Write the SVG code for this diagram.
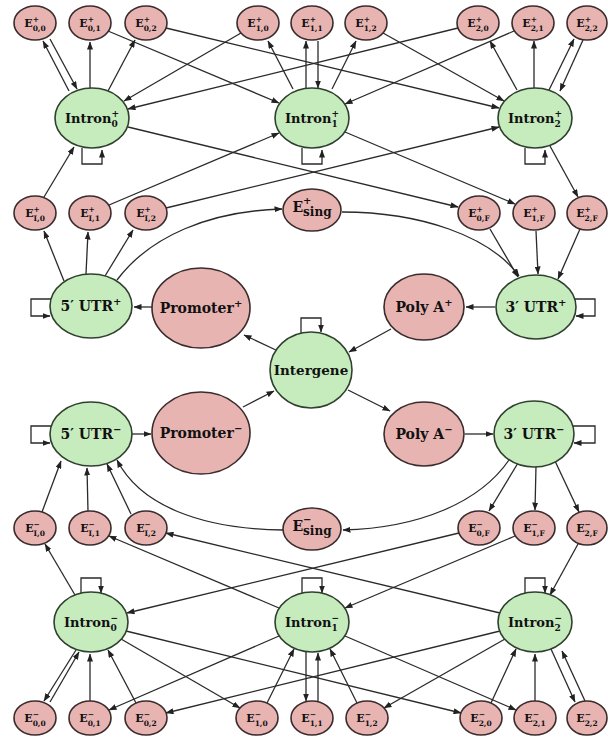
<svg xmlns="http://www.w3.org/2000/svg" width="608" height="738" viewBox="0 0 608 738">
<defs>
<marker id="ah" viewBox="0 0 8 6" refX="7.5" refY="3" markerWidth="8" markerHeight="6" markerUnits="userSpaceOnUse" orient="auto"><path d="M0,0 L8,3 L0,6 z" fill="#222"/></marker>
<style>
.c{fill:none;stroke:#2a2a2a;stroke-width:1.3;marker-end:url(#ah)}
.p{fill:#e8b4b2;stroke:#3a2c2c;stroke-width:1.6}
.g{fill:#c6ecbe;stroke:#2f402f;stroke-width:1.6}
text{font-family:"DejaVu Serif","Liberation Serif",serif;font-weight:bold;fill:#111;text-anchor:middle}
.e{font-size:11px}
.s{font-size:7.5px}
.t{font-size:13px}
.ts{font-size:9px}
.b{font-size:14px}
.bs{font-size:10px}
</style>
</defs>
<rect width="608" height="738" fill="#fff"/>
<g id="connectors">
<line class="c" x1="69" y1="91" x2="43" y2="41"/>
<line class="c" x1="50" y1="39" x2="77" y2="89"/>
<line class="c" x1="90" y1="88" x2="90" y2="42"/>
<line class="c" x1="108" y1="91" x2="135" y2="40"/>
<line class="c" x1="108" y1="31" x2="279" y2="103"/>
<line class="c" x1="166" y1="28" x2="499" y2="108"/>
<line class="c" x1="241" y1="33" x2="124" y2="101"/>
<line class="c" x1="458" y1="28" x2="128" y2="109"/>
<line class="c" x1="293" y1="89" x2="268" y2="41"/>
<line class="c" x1="306" y1="88" x2="306" y2="41"/>
<line class="c" x1="318" y1="41" x2="318" y2="88"/>
<line class="c" x1="332" y1="89" x2="356" y2="41"/>
<line class="c" x1="383" y1="33" x2="504" y2="101"/>
<line class="c" x1="514" y1="31" x2="345" y2="104"/>
<line class="c" x1="517" y1="90" x2="490" y2="41"/>
<line class="c" x1="534" y1="88" x2="534" y2="41"/>
<line class="c" x1="549" y1="90" x2="574" y2="39"/>
<line class="c" x1="583" y1="40" x2="560" y2="91"/>
<path class="c" d="M82,148 V164 H102 V150"/>
<path class="c" d="M302,148 V164 H322 V150"/>
<path class="c" d="M525,148 V164 H545 V150"/>
<line class="c" x1="44" y1="197" x2="74" y2="147"/>
<line class="c" x1="109" y1="205" x2="279" y2="133"/>
<line class="c" x1="166" y1="208" x2="499" y2="127"/>
<line class="c" x1="128" y1="127" x2="458" y2="207"/>
<line class="c" x1="345" y1="132" x2="515" y2="204"/>
<line class="c" x1="550" y1="146" x2="578" y2="197"/>
<line class="c" x1="64" y1="281" x2="44" y2="231"/>
<line class="c" x1="86" y1="274" x2="88" y2="232"/>
<line class="c" x1="105" y1="276" x2="133" y2="230"/>
<path class="c" d="M117,280 C150,236 210,211 282,209"/>
<path class="c" d="M342,212 C420,212 490,236 519,276"/>
<line class="c" x1="490" y1="229" x2="518" y2="277"/>
<line class="c" x1="536" y1="231" x2="538" y2="274"/>
<line class="c" x1="580" y1="229" x2="558" y2="279"/>
<line class="c" x1="152" y1="307" x2="134" y2="307"/>
<line class="c" x1="495" y1="307" x2="466" y2="307"/>
<path class="c" d="M52,299 H31 V316 H50"/>
<path class="c" d="M574,299 H595 V316 H576"/>
<line class="c" x1="278" y1="351" x2="244" y2="335"/>
<line class="c" x1="391" y1="329" x2="349" y2="352"/>
<line class="c" x1="243" y1="407" x2="274" y2="391"/>
<line class="c" x1="348" y1="390" x2="390" y2="411"/>
<path class="c" d="M301,334 V318 H321 V332"/>
<line class="c" x1="132" y1="434" x2="151" y2="434"/>
<line class="c" x1="465" y1="434" x2="493" y2="434"/>
<path class="c" d="M52,426 H31 V443 H50"/>
<path class="c" d="M572,426 H595 V443 H574"/>
<line class="c" x1="42" y1="512" x2="61" y2="461"/>
<line class="c" x1="88" y1="511" x2="87" y2="468"/>
<line class="c" x1="131" y1="514" x2="107" y2="464"/>
<path class="c" d="M283,530 C200,529 140,505 117,460"/>
<path class="c" d="M509,460 C480,502 420,528 343,530"/>
<line class="c" x1="518" y1="463" x2="489" y2="511"/>
<line class="c" x1="536" y1="466" x2="535" y2="510"/>
<line class="c" x1="555" y1="461" x2="579" y2="512"/>
<line class="c" x1="75" y1="595" x2="45" y2="544"/>
<line class="c" x1="279" y1="608" x2="109" y2="536"/>
<line class="c" x1="500" y1="613" x2="166" y2="533"/>
<line class="c" x1="459" y1="533" x2="127" y2="613"/>
<line class="c" x1="515" y1="536" x2="345" y2="608"/>
<line class="c" x1="578" y1="544" x2="550" y2="595"/>
<path class="c" d="M81,594 V578 H101 V593"/>
<path class="c" d="M302,594 V578 H322 V593"/>
<path class="c" d="M525,594 V578 H545 V593"/>
<line class="c" x1="76" y1="650" x2="44" y2="701"/>
<line class="c" x1="50" y1="702" x2="79" y2="652"/>
<line class="c" x1="90" y1="701" x2="90" y2="654"/>
<line class="c" x1="136" y1="703" x2="108" y2="650"/>
<line class="c" x1="121" y1="639" x2="240" y2="708"/>
<line class="c" x1="126" y1="631" x2="461" y2="713"/>
<line class="c" x1="279" y1="636" x2="109" y2="710"/>
<line class="c" x1="500" y1="631" x2="166" y2="713"/>
<line class="c" x1="267" y1="703" x2="294" y2="649"/>
<line class="c" x1="306" y1="652" x2="306" y2="701"/>
<line class="c" x1="318" y1="701" x2="318" y2="653"/>
<line class="c" x1="357" y1="703" x2="330" y2="649"/>
<line class="c" x1="345" y1="636" x2="516" y2="710"/>
<line class="c" x1="505" y1="639" x2="384" y2="708"/>
<line class="c" x1="491" y1="703" x2="516" y2="649"/>
<line class="c" x1="535" y1="701" x2="535" y2="654"/>
<line class="c" x1="551" y1="649" x2="575" y2="702"/>
<line class="c" x1="585" y1="701" x2="562" y2="651"/>
</g>
<g id="E00p"><ellipse class="p" cx="35" cy="23" rx="21" ry="17"/><text class="e" x="35" y="27">E<tspan class="s" dy="-5">+</tspan><tspan class="s" dx="-6.3" dy="9">0,0</tspan></text></g>
<g id="E01p"><ellipse class="p" cx="90" cy="23" rx="21" ry="17"/><text class="e" x="90" y="27">E<tspan class="s" dy="-5">+</tspan><tspan class="s" dx="-6.3" dy="9">0,1</tspan></text></g>
<g id="E02p"><ellipse class="p" cx="146" cy="23" rx="21" ry="17"/><text class="e" x="146" y="27">E<tspan class="s" dy="-5">+</tspan><tspan class="s" dx="-6.3" dy="9">0,2</tspan></text></g>
<g id="E10p"><ellipse class="p" cx="258" cy="23" rx="21" ry="17"/><text class="e" x="258" y="27">E<tspan class="s" dy="-5">+</tspan><tspan class="s" dx="-6.3" dy="9">1,0</tspan></text></g>
<g id="E11p"><ellipse class="p" cx="312" cy="23" rx="21" ry="17"/><text class="e" x="312" y="27">E<tspan class="s" dy="-5">+</tspan><tspan class="s" dx="-6.3" dy="9">1,1</tspan></text></g>
<g id="E12p"><ellipse class="p" cx="366" cy="23" rx="21" ry="17"/><text class="e" x="366" y="27">E<tspan class="s" dy="-5">+</tspan><tspan class="s" dx="-6.3" dy="9">1,2</tspan></text></g>
<g id="E20p"><ellipse class="p" cx="478" cy="23" rx="21" ry="17"/><text class="e" x="478" y="27">E<tspan class="s" dy="-5">+</tspan><tspan class="s" dx="-6.3" dy="9">2,0</tspan></text></g>
<g id="E21p"><ellipse class="p" cx="533" cy="23" rx="21" ry="17"/><text class="e" x="533" y="27">E<tspan class="s" dy="-5">+</tspan><tspan class="s" dx="-6.3" dy="9">2,1</tspan></text></g>
<g id="E22p"><ellipse class="p" cx="587" cy="23" rx="20" ry="17"/><text class="e" x="587" y="27">E<tspan class="s" dy="-5">+</tspan><tspan class="s" dx="-6.3" dy="9">2,2</tspan></text></g>
<g id="Intron0p"><ellipse class="g" cx="92" cy="118" rx="37" ry="30"/><text class="t" x="92" y="123">Intron<tspan class="ts" dy="4">0</tspan><tspan class="ts" dx="-6.3" dy="-10">+</tspan></text></g>
<g id="Intron1p"><ellipse class="g" cx="312" cy="118" rx="37" ry="30"/><text class="t" x="312" y="123">Intron<tspan class="ts" dy="4">1</tspan><tspan class="ts" dx="-6.3" dy="-10">+</tspan></text></g>
<g id="Intron2p"><ellipse class="g" cx="535" cy="118" rx="37" ry="30"/><text class="t" x="535" y="123">Intron<tspan class="ts" dy="4">2</tspan><tspan class="ts" dx="-6.3" dy="-10">+</tspan></text></g>
<g id="EI0p"><ellipse class="p" cx="35" cy="213" rx="21" ry="17"/><text class="e" x="35" y="217">E<tspan class="s" dy="-5">+</tspan><tspan class="s" dx="-6.3" dy="9">I,0</tspan></text></g>
<g id="EI1p"><ellipse class="p" cx="90" cy="213" rx="21" ry="17"/><text class="e" x="90" y="217">E<tspan class="s" dy="-5">+</tspan><tspan class="s" dx="-6.3" dy="9">I,1</tspan></text></g>
<g id="EI2p"><ellipse class="p" cx="146" cy="213" rx="21" ry="17"/><text class="e" x="146" y="217">E<tspan class="s" dy="-5">+</tspan><tspan class="s" dx="-6.3" dy="9">I,2</tspan></text></g>
<g id="Esingp"><ellipse class="p" cx="312" cy="210" rx="29" ry="21"/><text style="font-size:14px" x="312" y="212">E<tspan class="bs" dy="-8">+</tspan><tspan style="font-size:12px" dx="-8.4" dy="12">sing</tspan></text></g>
<g id="E0Fp"><ellipse class="p" cx="479" cy="213" rx="21" ry="17"/><text class="e" x="479" y="217">E<tspan class="s" dy="-5">+</tspan><tspan class="s" dx="-6.3" dy="9">0,F</tspan></text></g>
<g id="E1Fp"><ellipse class="p" cx="534" cy="213" rx="21" ry="17"/><text class="e" x="534" y="217">E<tspan class="s" dy="-5">+</tspan><tspan class="s" dx="-6.3" dy="9">1,F</tspan></text></g>
<g id="E2Fp"><ellipse class="p" cx="587" cy="213" rx="20" ry="17"/><text class="e" x="587" y="217">E<tspan class="s" dy="-5">+</tspan><tspan class="s" dx="-6.3" dy="9">2,F</tspan></text></g>
<g id="UTR5p"><ellipse class="g" cx="91" cy="306" rx="41" ry="32"/><text class="b" x="91" y="311">5′ UTR<tspan class="bs" dy="-6">+</tspan></text></g>
<g id="Promoterp"><ellipse class="p" cx="201" cy="308" rx="49" ry="40"/><text class="b" x="201" y="313">Promoter<tspan class="bs" dy="-6">+</tspan></text></g>
<g id="PolyAp"><ellipse class="p" cx="424" cy="307" rx="40" ry="33"/><text class="b" x="424" y="312">Poly A<tspan class="bs" dy="-6">+</tspan></text></g>
<g id="UTR3p"><ellipse class="g" cx="536" cy="307" rx="40" ry="32"/><text class="b" x="536" y="312">3′ UTR<tspan class="bs" dy="-6">+</tspan></text></g>
<g id="Intergene"><ellipse class="g" cx="311" cy="370" rx="41" ry="38"/><text style="font-size:13.5px" x="311" y="375">Intergene</text></g>
<g id="UTR5m"><ellipse class="g" cx="91" cy="434" rx="41" ry="32"/><text class="b" x="91" y="439">5′ UTR<tspan class="bs" dy="-6">−</tspan></text></g>
<g id="Promoterm"><ellipse class="p" cx="201" cy="433" rx="49" ry="41"/><text class="b" x="201" y="438">Promoter<tspan class="bs" dy="-6">−</tspan></text></g>
<g id="PolyAm"><ellipse class="p" cx="424" cy="434" rx="40" ry="32"/><text class="b" x="424" y="439">Poly A<tspan class="bs" dy="-6">−</tspan></text></g>
<g id="UTR3m"><ellipse class="g" cx="534" cy="434" rx="40" ry="33"/><text class="b" x="534" y="439">3′ UTR<tspan class="bs" dy="-6">−</tspan></text></g>
<g id="EI0m"><ellipse class="p" cx="35" cy="528" rx="21" ry="17"/><text class="e" x="35" y="532">E<tspan class="s" dy="-5">−</tspan><tspan class="s" dx="-6.3" dy="9">I,0</tspan></text></g>
<g id="EI1m"><ellipse class="p" cx="90" cy="528" rx="21" ry="17"/><text class="e" x="90" y="532">E<tspan class="s" dy="-5">−</tspan><tspan class="s" dx="-6.3" dy="9">I,1</tspan></text></g>
<g id="EI2m"><ellipse class="p" cx="146" cy="528" rx="21" ry="17"/><text class="e" x="146" y="532">E<tspan class="s" dy="-5">−</tspan><tspan class="s" dx="-6.3" dy="9">I,2</tspan></text></g>
<g id="Esingm"><ellipse class="p" cx="312" cy="529" rx="29" ry="21"/><text style="font-size:14px" x="312" y="531">E<tspan class="bs" dy="-8">−</tspan><tspan style="font-size:12px" dx="-8.4" dy="12">sing</tspan></text></g>
<g id="E0Fm"><ellipse class="p" cx="479" cy="528" rx="21" ry="17"/><text class="e" x="479" y="532">E<tspan class="s" dy="-5">−</tspan><tspan class="s" dx="-6.3" dy="9">0,F</tspan></text></g>
<g id="E1Fm"><ellipse class="p" cx="534" cy="528" rx="21" ry="17"/><text class="e" x="534" y="532">E<tspan class="s" dy="-5">−</tspan><tspan class="s" dx="-6.3" dy="9">1,F</tspan></text></g>
<g id="E2Fm"><ellipse class="p" cx="587" cy="528" rx="20" ry="17"/><text class="e" x="587" y="532">E<tspan class="s" dy="-5">−</tspan><tspan class="s" dx="-6.3" dy="9">2,F</tspan></text></g>
<g id="Intron0m"><ellipse class="g" cx="91" cy="622" rx="37" ry="30"/><text class="t" x="91" y="627">Intron<tspan class="ts" dy="4">0</tspan><tspan class="ts" dx="-6.3" dy="-10">−</tspan></text></g>
<g id="Intron1m"><ellipse class="g" cx="312" cy="622" rx="37" ry="30"/><text class="t" x="312" y="627">Intron<tspan class="ts" dy="4">1</tspan><tspan class="ts" dx="-6.3" dy="-10">−</tspan></text></g>
<g id="Intron2m"><ellipse class="g" cx="535" cy="622" rx="37" ry="30"/><text class="t" x="535" y="627">Intron<tspan class="ts" dy="4">2</tspan><tspan class="ts" dx="-6.3" dy="-10">−</tspan></text></g>
<g id="E00m"><ellipse class="p" cx="35" cy="718" rx="21" ry="17"/><text class="e" x="35" y="722">E<tspan class="s" dy="-5">−</tspan><tspan class="s" dx="-6.3" dy="9">0,0</tspan></text></g>
<g id="E01m"><ellipse class="p" cx="90" cy="718" rx="21" ry="17"/><text class="e" x="90" y="722">E<tspan class="s" dy="-5">−</tspan><tspan class="s" dx="-6.3" dy="9">0,1</tspan></text></g>
<g id="E02m"><ellipse class="p" cx="146" cy="718" rx="21" ry="17"/><text class="e" x="146" y="722">E<tspan class="s" dy="-5">−</tspan><tspan class="s" dx="-6.3" dy="9">0,2</tspan></text></g>
<g id="E10m"><ellipse class="p" cx="257" cy="718" rx="21" ry="17"/><text class="e" x="257" y="722">E<tspan class="s" dy="-5">−</tspan><tspan class="s" dx="-6.3" dy="9">1,0</tspan></text></g>
<g id="E11m"><ellipse class="p" cx="312" cy="718" rx="21" ry="17"/><text class="e" x="312" y="722">E<tspan class="s" dy="-5">−</tspan><tspan class="s" dx="-6.3" dy="9">1,1</tspan></text></g>
<g id="E12m"><ellipse class="p" cx="367" cy="718" rx="21" ry="17"/><text class="e" x="367" y="722">E<tspan class="s" dy="-5">−</tspan><tspan class="s" dx="-6.3" dy="9">1,2</tspan></text></g>
<g id="E20m"><ellipse class="p" cx="481" cy="718" rx="21" ry="17"/><text class="e" x="481" y="722">E<tspan class="s" dy="-5">−</tspan><tspan class="s" dx="-6.3" dy="9">2,0</tspan></text></g>
<g id="E21m"><ellipse class="p" cx="535" cy="718" rx="21" ry="17"/><text class="e" x="535" y="722">E<tspan class="s" dy="-5">−</tspan><tspan class="s" dx="-6.3" dy="9">2,1</tspan></text></g>
<g id="E22m"><ellipse class="p" cx="587" cy="718" rx="20" ry="17"/><text class="e" x="587" y="722">E<tspan class="s" dy="-5">−</tspan><tspan class="s" dx="-6.3" dy="9">2,2</tspan></text></g>
</svg>
